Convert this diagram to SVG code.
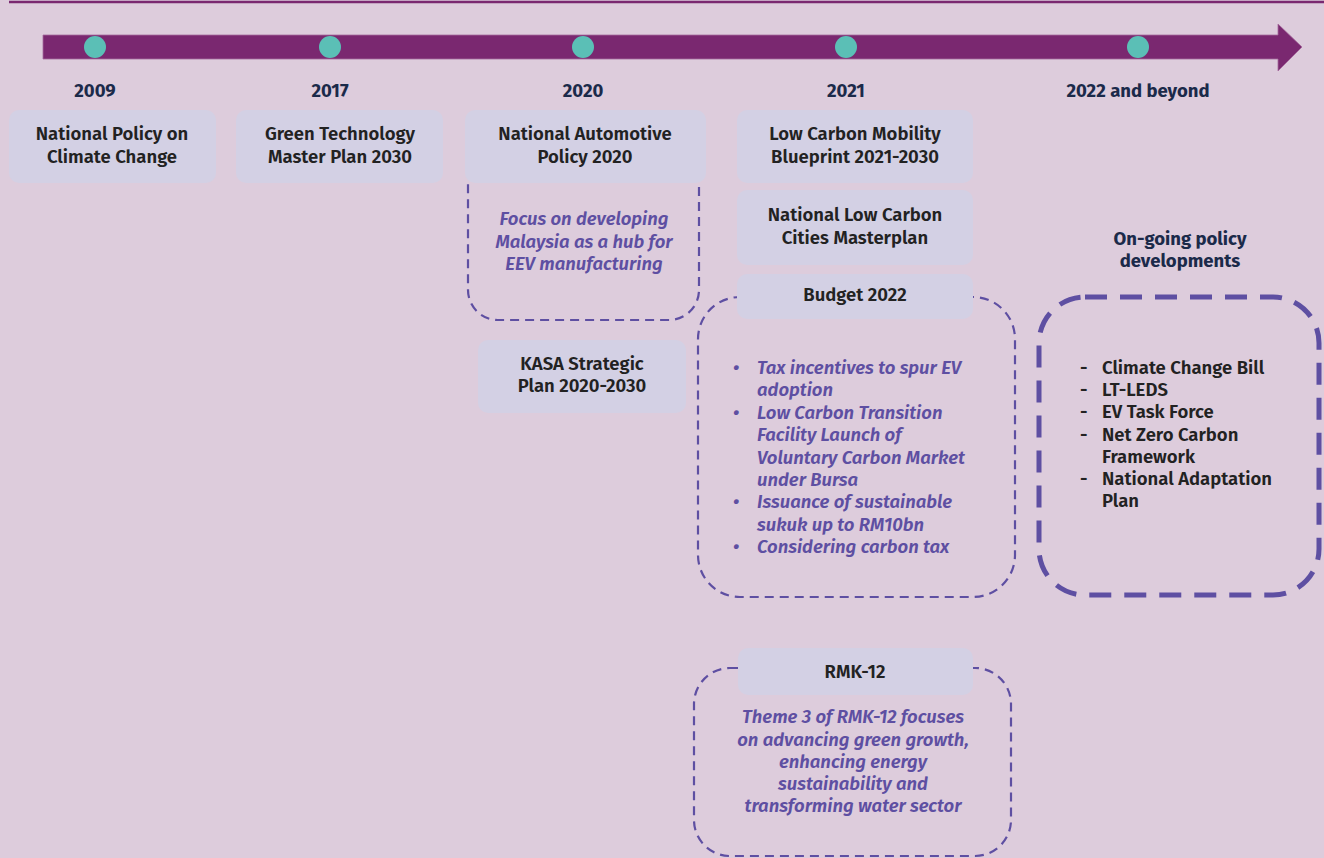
<svg xmlns="http://www.w3.org/2000/svg" width="1324" height="858" viewBox="0 0 1324 858">
<style>
.bg{fill:#DDCCDC}
.box{fill:#D3D0E4}
.dash{fill:none;stroke:#5E4FA2;stroke-width:2.2;stroke-dasharray:9 6}
.dashb{fill:none;stroke:#5E4FA2;stroke-width:5;stroke-dasharray:22 13}
.dot{fill:#5BBFB6}
.yr{font-family:"Fira Sans","Noto Sans","Open Sans",sans-serif;font-weight:700;font-size:18.5px;fill:#1B2A4A;text-anchor:middle}
.t{font-family:"Fira Sans","Noto Sans","Open Sans",sans-serif;font-weight:600;font-size:18.5px;fill:#222222;text-anchor:middle}
.tl{font-family:"Fira Sans","Noto Sans","Open Sans",sans-serif;font-weight:600;font-size:18.5px;fill:#222222}
.it{font-family:"Fira Sans","Noto Sans","Open Sans",sans-serif;font-weight:600;font-style:italic;font-size:18.5px;fill:#5E4FA2;text-anchor:middle}
.itl{font-family:"Fira Sans","Noto Sans","Open Sans",sans-serif;font-weight:600;font-style:italic;font-size:18.5px;fill:#5E4FA2}
</style>
<rect class="bg" x="0" y="0" width="1324" height="858"/>
<line x1="9" y1="2" x2="1324" y2="2" stroke="#7A2870" stroke-width="2.5"/>

<g id="timeline">
<path d="M43 35 H1278 V24 L1302 47 L1278 71 V59 H43 Z" fill="#7A2870" stroke="#A46A9C" stroke-width="0.8"/>
<circle class="dot" cx="95" cy="47" r="11"/>
<circle class="dot" cx="330" cy="47" r="11"/>
<circle class="dot" cx="583" cy="47" r="11"/>
<circle class="dot" cx="846" cy="47" r="11"/>
<circle class="dot" cx="1138" cy="47" r="11"/>
<text class="yr" x="95" y="97">2009</text>
<text class="yr" x="330" y="97">2017</text>
<text class="yr" x="583" y="97">2020</text>
<text class="yr" x="846" y="97">2021</text>
<text class="yr" x="1138" y="97">2022 and beyond</text>
</g>

<g id="connectors">
<rect class="dash" x="468" y="150" width="231" height="170" rx="30"/>
<rect class="dash" x="698" y="297" width="317" height="300" rx="42"/>
<rect class="dash" x="694" y="668" width="317" height="188" rx="36"/>
<rect class="dashb" x="1039" y="297" width="280" height="298" rx="46"/>
</g>

<g id="n2009">
<rect class="box" x="9" y="110" width="207" height="73" rx="10"/>
<text class="t" x="112" y="140">National Policy on</text>
<text class="t" x="112" y="163">Climate Change</text>
</g>
<g id="n2017">
<rect class="box" x="236" y="110" width="207" height="73" rx="10"/>
<text class="t" x="340" y="140">Green Technology</text>
<text class="t" x="340" y="163">Master Plan 2030</text>
</g>
<g id="nap">
<rect class="box" x="465" y="110" width="241" height="73" rx="10"/>
<text class="t" x="585" y="140">National Automotive</text>
<text class="t" x="585" y="163">Policy 2020</text>
<text class="it" x="584" y="225">Focus on developing</text>
<text class="it" x="584" y="248">Malaysia as a hub for</text>
<text class="it" x="584" y="270">EEV manufacturing</text>
</g>
<g id="kasa">
<rect class="box" x="478" y="340" width="208" height="73" rx="10"/>
<text class="t" x="582" y="370">KASA Strategic</text>
<text class="t" x="582" y="392">Plan 2020-2030</text>
</g>
<g id="lcmb">
<rect class="box" x="737" y="110" width="236" height="73" rx="10"/>
<text class="t" x="855" y="140">Low Carbon Mobility</text>
<text class="t" x="855" y="163">Blueprint 2021-2030</text>
</g>
<g id="nlccm">
<rect class="box" x="737" y="190" width="236" height="75" rx="10"/>
<text class="t" x="855" y="221">National Low Carbon</text>
<text class="t" x="855" y="244">Cities Masterplan</text>
</g>
<g id="budget">
<rect class="box" x="737" y="274" width="236" height="45" rx="10"/>
<text class="t" x="855" y="301">Budget 2022</text>
<g class="itl">
<text x="733" y="374">•</text><text x="757" y="374">Tax incentives to spur EV</text>
<text x="757" y="396">adoption</text>
<text x="733" y="419">•</text><text x="757" y="419">Low Carbon Transition</text>
<text x="757" y="441">Facility Launch of</text>
<text x="757" y="464">Voluntary Carbon Market</text>
<text x="757" y="486">under Bursa</text>
<text x="733" y="508">•</text><text x="757" y="508">Issuance of sustainable</text>
<text x="757" y="531">sukuk up to RM10bn</text>
<text x="733" y="553">•</text><text x="757" y="553">Considering carbon tax</text>
</g>
</g>
<g id="rmk12">
<rect class="box" x="738" y="648" width="235" height="47" rx="10"/>
<text class="t" x="855" y="678">RMK-12</text>
<text class="it" x="853" y="723">Theme 3 of RMK-12 focuses</text>
<text class="it" x="853" y="746">on advancing green growth,</text>
<text class="it" x="853" y="768">enhancing energy</text>
<text class="it" x="853" y="790">sustainability and</text>
<text class="it" x="853" y="812">transforming water sector</text>
</g>
<g id="ongoing">
<text class="yr" x="1180" y="245">On-going policy</text>
<text class="yr" x="1180" y="267">developments</text>
<g class="tl">
<text x="1080" y="374">-</text><text x="1102" y="374">Climate Change Bill</text>
<text x="1080" y="396">-</text><text x="1102" y="396">LT-LEDS</text>
<text x="1080" y="418">-</text><text x="1102" y="418">EV Task Force</text>
<text x="1080" y="441">-</text><text x="1102" y="441">Net Zero Carbon</text>
<text x="1102" y="463">Framework</text>
<text x="1080" y="485">-</text><text x="1102" y="485">National Adaptation</text>
<text x="1102" y="507">Plan</text>
</g>
</g>
</svg>
